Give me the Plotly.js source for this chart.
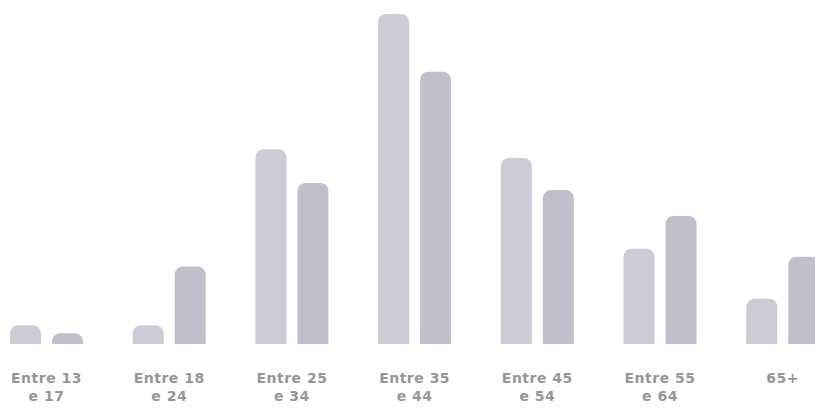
<!DOCTYPE html>
<html>
<head>
<meta charset="utf-8">
<script src="https://cdn.plot.ly/plotly-3.0.1.min.js"></script>
<style>
  html, body { margin: 0; padding: 0; background: #ffffff; }
  #chart { width: 815px; height: 409px; }
  .xtick text { letter-spacing: 0.5px; }
</style>
</head>
<body>
<div id="chart"></div>
<script>
const categories = ["Entre 13<br>e 17", "Entre 18<br>e 24", "Entre 25<br>e 34", "Entre 35<br>e 44", "Entre 45<br>e 54", "Entre 55<br>e 64", "65+"];
const seriesA = [2.1, 2.1, 21.9, 37.1, 20.9, 10.7, 5.1];
const seriesB = [1.2, 8.7, 18.1, 30.6, 17.3, 14.4, 9.8];

const idx = categories.map((_, i) => i);

const traceA = {
  type: 'bar', x: idx, y: seriesA,
  width: 0.2527, offset: -0.2974,
  marker: { color: '#cccbd6', cornerradius: 8, line: { width: 0 } },
  hoverinfo: 'skip', showlegend: false
};
const traceB = {
  type: 'bar', x: idx, y: seriesB,
  width: 0.2527, offset: 0.0448,
  marker: { color: '#c0bfcb', cornerradius: 8, line: { width: 0 } },
  hoverinfo: 'skip', showlegend: false
};

const layout = {
  width: 815, height: 409,
  margin: { l: 0, r: 0, t: 2, b: 65 },
  paper_bgcolor: '#ffffff', plot_bgcolor: '#ffffff',
  barmode: 'overlay',
  xaxis: {
    range: [-0.379, 6.263],
    tickmode: 'array', tickvals: idx, ticktext: categories,
    showgrid: false, zeroline: false, showline: false, ticks: '',
    ticklabelstandoff: 24,
    tickfont: { family: 'DejaVu Sans, Verdana, sans-serif', size: 14, weight: 'bold', color: '#969696' }
  },
  yaxis: {
    range: [0, 38.45], visible: false, showgrid: false, zeroline: false, fixedrange: true
  }
};

Plotly.newPlot('chart', [traceA, traceB], layout, { staticPlot: true, displayModeBar: false });
</script>
</body>
</html>
